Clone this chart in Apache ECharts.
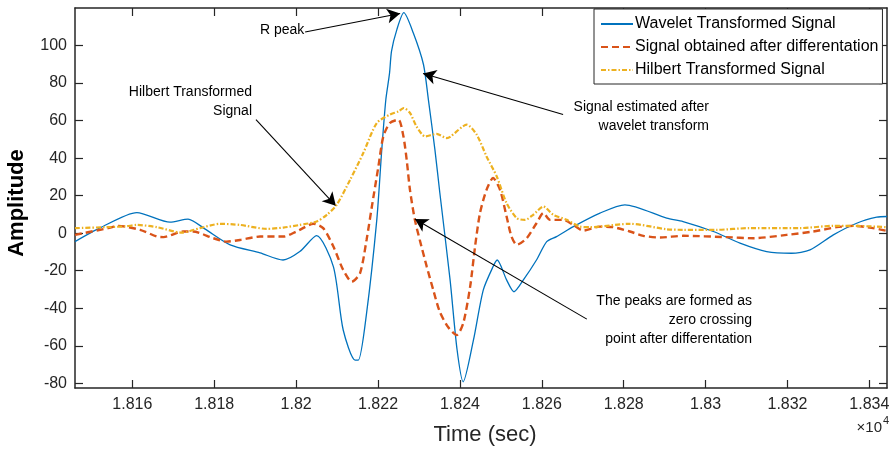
<!DOCTYPE html>
<html>
<head>
<meta charset="utf-8">
<script src="https://cdn.jsdelivr.net/npm/echarts@6/dist/echarts.min.js"></script>
<style>
  html, body { margin: 0; padding: 0; background: #ffffff; }
  #chart { width: 893px; height: 450px; }
</style>
</head>
<body>
<div id="chart"></div>
<script>
// ---- Signal data (time in seconds, amplitude) ----
const waveletTime = [18146.0, 18152.1, 18161.1, 18169.2, 18173.6, 18177.7, 18183.9, 18191.2, 18196.8, 18200.9,
  18205.0, 18209.1, 18211.5, 18214.4, 18215.2, 18217.2, 18219.7, 18220.9, 18221.9, 18222.8,
  18223.3, 18224.6, 18226.3, 18228.6, 18231.1, 18232.3, 18233.9, 18235.1, 18237.6, 18239.3,
  18240.8, 18243.3, 18245.7, 18248.1, 18249.1, 18251.4, 18253.2, 18255.5, 18258.7, 18261.2,
  18263.6, 18267.7, 18274.2, 18280.3, 18290.5, 18294.5, 18301.9, 18308.4, 18314.9, 18321.0,
  18325.5, 18331.2, 18336.9, 18341.8, 18344.3];
const waveletAmp = [-4.5, 2.8, 11.0, 5.9, 7.5, 2.3, -6.2, -10.5, -14.3, -9.8,
  -1.3, -17.8, -51.6, -67.6, -67.6, -42.7, 7.1, 44.0, 71.0, 85.0,
  97.0, 108.5, 117.5, 106.8, 89.9, 71.2, 44.4, 21.4, -24.9, -62.0,
  -79.2, -57.0, -30.3, -17.8, -14.3, -24.9, -31.2, -24.9, -14.3, -4.5,
  -1.8, 3.5, 10.7, 15.1, 8.0, 6.2, 0.9, -5.3, -9.8, -10.7,
  -8.9, -0.9, 5.3, 8.5, 8.9];

const diffTime = [18146.0, 18154.1, 18156.6, 18161.9, 18166.0, 18167.6, 18172.4, 18174.8, 18179.8, 18183.0,
  18186.3, 18191.2, 18196.9, 18200.1, 18200.9, 18204.2, 18206.6, 18209.1, 18211.5, 18213.6,
  18215.6, 18217.2, 18218.5, 18220.1, 18221.3, 18222.9, 18225.0, 18226.2, 18227.0, 18227.8,
  18229.0, 18230.2, 18231.9, 18233.5, 18235.1, 18237.2, 18239.2, 18240.8, 18242.5, 18243.7,
  18244.9, 18246.5, 18248.1, 18249.8, 18251.4, 18252.6, 18253.9, 18256.3, 18258.7, 18260.4,
  18262.0, 18265.2, 18267.7, 18270.1, 18274.2, 18277.4, 18281.5, 18284.8, 18288.9, 18294.5,
  18305.1, 18311.6, 18319.8, 18326.3, 18332.0, 18336.1, 18340.9, 18344.3];
const diffAmp = [-0.9, 2.7, 3.9, 1.8, -1.8, -2.1, 0.9, 0.9, -2.7, -4.5,
  -3.6, -1.8, -1.8, 0.9, 1.8, 5.0, 2.7, -7.1, -19.6, -25.8,
  -21.4, -3.6, 14.2, 35.6, 51.6, 58.7, 60.5, 51.6, 39.1, 23.1,
  7.1, -3.6, -17.8, -30.3, -42.0, -50.3, -54.3, -48.1, -28.5, -7.1,
  10.7, 23.1, 29.4, 23.1, 8.9, -1.8, -6.2, -2.7, 5.3, 10.7,
  7.1, 7.1, 4.4, 1.4, 3.5, 3.2, 0.9, -1.4, -2.3, -1.4,
  -2.1, -2.7, -0.9, 0.9, 3.2, 3.9, 2.7, 1.2];

const hilbertTime = [18146.0, 18158.2, 18161.1, 18166.0, 18172.1, 18176.5, 18181.4, 18186.3, 18192.8, 18196.9,
  18200.9, 18205.0, 18207.5, 18209.9, 18213.2, 18216.4, 18219.7, 18222.9, 18225.0, 18226.3,
  18227.8, 18229.4, 18231.5, 18234.3, 18236.8, 18237.6, 18241.7, 18244.1, 18246.5, 18249.0,
  18251.4, 18253.9, 18255.9, 18257.9, 18260.4, 18262.8, 18266.1, 18269.3, 18271.8, 18274.2,
  18281.5, 18290.5, 18294.5, 18302.7, 18310.8, 18323.0, 18331.2, 18336.1, 18344.3];
const hilbertAmp = [2.7, 3.6, 4.4, 3.2, 0.3, 2.7, 5.0, 4.4, 2.3, 3.0,
  4.4, 6.2, 9.8, 15.1, 28.5, 42.7, 58.7, 63.2, 64.9, 66.7,
  64.1, 56.9, 51.6, 52.9, 50.7, 51.3, 57.8, 52.5, 40.9, 30.2,
  16.0, 8.0, 7.1, 9.8, 14.2, 9.8, 7.1, 3.5, 3.2, 3.5,
  5.0, 2.1, 1.8, 1.8, 2.7, 2.7, 3.9, 3.9, 3.2];

const seriesNames = ['Wavelet Transformed Signal', 'Signal obtained after differentation', 'Hilbert Transformed Signal'];

// Tick positions (seconds) and amplitude ticks
const xTicks = [18160, 18180, 18200, 18220, 18240, 18260, 18280, 18300, 18320, 18340];
const yTicks = [-80, -60, -40, -20, 0, 20, 40, 60, 80, 100];

// Annotation arrows in data coordinates: [from, to]
const arrowRPeak = [[18202.2, 107.2], [18225.4, 117.1]];
const arrowWavelet = [[18265.2, 63.2], [18231.0, 85.1]];
const arrowHilbert = [[18190.2, 60.5], [18209.7, 14.6]];
const arrowZeroCross = [[18271.0, -45.8], [18229.0, 7.6]];
const peakLine = [[18226.4, 120.5], [18229.4, -42.6]];

const X_MIN = 18146, X_MAX = 18344.3, Y_MIN = -82.5, Y_MAX = 120;

const FONT = "'Liberation Sans', Arial, Helvetica, sans-serif";
const AX = '#262626';

const zip = (a, b) => a.map((t, i) => [t, b[i]]);
const fmtX = v => String(parseFloat((v / 10000).toFixed(4)));

function axisCommon(extra) {
  return Object.assign({
    type: 'value',
    splitLine: { show: false },
    axisLine: { show: true, onZero: false, lineStyle: { color: AX, width: 1.5 } },
  }, extra);
}
const tickStyle = (vals) => ({ show: true, inside: true, length: 8, customValues: vals, lineStyle: { color: AX, width: 1.2 } });

const chart = echarts.init(document.getElementById('chart'), null, { renderer: 'canvas' });

const arrowSeg = (seg) => [
  { coord: seg[0], symbol: 'none' },
  { coord: seg[1], symbol: 'arrow', symbolSize: [11, 13] }
];

// legend entries: line sample only, no marker
const legendEntry = (name) => ({ name, itemStyle: { color: 'rgba(0,0,0,0)', borderWidth: 0, opacity: 0 } });

chart.setOption({
  animation: false,
  backgroundColor: '#ffffff',
  textStyle: { fontFamily: FONT },
  grid: { left: 75, right: 6, top: 8, bottom: 62, containLabel: false },
  xAxis: [
    axisCommon({
      min: X_MIN, max: X_MAX, position: 'bottom',
      axisTick: tickStyle(xTicks),
      axisLabel: { customValues: xTicks, formatter: fmtX, color: AX, fontSize: 16, margin: 9, fontFamily: FONT }
    }),
    axisCommon({
      min: X_MIN, max: X_MAX, position: 'top',
      axisTick: tickStyle(xTicks),
      axisLabel: { show: false }
    })
  ],
  yAxis: [
    axisCommon({
      min: Y_MIN, max: Y_MAX, position: 'left',
      axisTick: tickStyle(yTicks),
      axisLabel: { customValues: yTicks, color: AX, fontSize: 16, margin: 8, fontFamily: FONT }
    }),
    axisCommon({
      min: Y_MIN, max: Y_MAX, position: 'right',
      axisTick: tickStyle(yTicks),
      axisLabel: { show: false }
    })
  ],
  legend: {
    data: seriesNames.map(legendEntry),
    orient: 'vertical',
    left: 594, top: 9,
    padding: [7, 4, 6, 6],
    itemWidth: 32, itemHeight: 14, itemGap: 7,
    backgroundColor: '#ffffff',
    borderColor: AX, borderWidth: 1,
    itemStyle: { color: 'rgba(0,0,0,0)', borderWidth: 0, opacity: 0 },
    textStyle: { fontSize: 16, color: '#000000', fontFamily: FONT, padding: [0, 0, 0, -3] },
    selectedMode: false
  },
  series: [
    {
      name: seriesNames[0], type: 'line', data: zip(waveletTime, waveletAmp),
      showSymbol: false, symbol: 'none', smooth: 0.25,
      lineStyle: { color: '#0072BD', width: 1.3 }, itemStyle: { color: '#0072BD' }, z: 3
    },
    {
      name: seriesNames[1], type: 'line', data: zip(diffTime, diffAmp),
      showSymbol: false, symbol: 'none', smooth: 0.25,
      lineStyle: { color: '#D95319', width: 2.4, type: [7, 4] }, itemStyle: { color: '#D95319' }, z: 4
    },
    {
      name: seriesNames[2], type: 'line', data: zip(hilbertTime, hilbertAmp),
      showSymbol: false, symbol: 'none', smooth: 0.25,
      lineStyle: { color: '#EDB120', width: 2.2, type: [5, 2, 1.5, 2] }, itemStyle: { color: '#EDB120' }, z: 5
    },
    {
      name: 'notes', type: 'line', data: [], silent: true, z: 6,
      markLine: {
        silent: true, animation: false,
        symbol: ['none', 'arrow'],
        label: { show: false },
        lineStyle: { color: '#000000', width: 1.1, type: 'solid' },
        emphasis: { disabled: true },
        data: [
          arrowSeg(arrowRPeak),
          arrowSeg(arrowWavelet),
          arrowSeg(arrowHilbert),
          arrowSeg(arrowZeroCross),
          [{ coord: peakLine[0], symbol: 'none' }, { coord: peakLine[1], symbol: 'none' }]
        ]
      }
    }
  ],
  graphic: [
    { type: 'text', x: 17, y: 203, rotation: Math.PI / 2,
      style: { text: 'Amplitude', font: 'bold 22px ' + FONT, fill: '#000000', align: 'center', verticalAlign: 'middle' } },
    { type: 'text', x: 485, y: 435,
      style: { text: 'Time (sec)', font: '22px ' + FONT, fill: AX, align: 'center', verticalAlign: 'middle' } },
    { type: 'text', x: 882, y: 428,
      style: { text: '\u00d710', font: '15px ' + FONT, fill: AX, align: 'right', verticalAlign: 'middle' } },
    { type: 'text', x: 883, y: 415,
      style: { text: '4', font: '11px ' + FONT, fill: AX, align: 'left', verticalAlign: 'top' } },
    { type: 'text', x: 260, y: 30,
      style: { text: 'R peak', font: '14px ' + FONT, fill: '#000000', align: 'left', verticalAlign: 'middle' } },
    { type: 'text', x: 252, y: 82,
      style: { text: 'Hilbert Transformed\nSignal', font: '14px ' + FONT, lineHeight: 19.7, fill: '#000000', align: 'right', verticalAlign: 'top' } },
    { type: 'text', x: 709, y: 97,
      style: { text: 'Signal estimated after\nwavelet transform', font: '14px ' + FONT, lineHeight: 19.7, fill: '#000000', align: 'right', verticalAlign: 'top' } },
    { type: 'text', x: 752, y: 291,
      style: { text: 'The peaks are formed as\nzero crossing\npoint after differentation', font: '14px ' + FONT, lineHeight: 19.3, fill: '#000000', align: 'right', verticalAlign: 'top' } }
  ]
});
</script>
</body>
</html>
